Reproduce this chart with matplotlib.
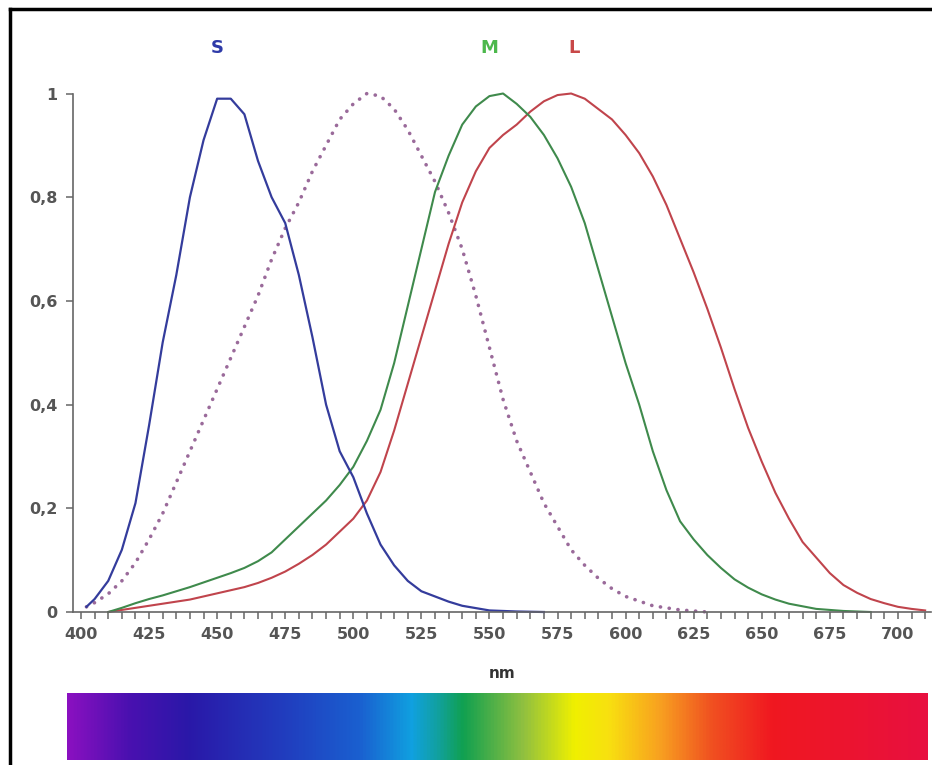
import numpy as np
import matplotlib
matplotlib.use("Agg")
import matplotlib.pyplot as plt
from matplotlib.colors import LinearSegmentedColormap
from matplotlib.lines import Line2D

# ---- data ----
s_nm = [402, 405, 410, 415, 420, 425, 430, 435, 440, 445, 450, 455, 460, 465, 470,
        475, 480, 485, 490, 495, 500, 505, 510, 515, 520, 525, 530, 535, 540, 550, 560, 570]
s_val = [0.01, 0.025, 0.06, 0.12, 0.21, 0.36, 0.52, 0.65, 0.80, 0.91, 0.99, 0.99, 0.96, 0.87, 0.80,
         0.75, 0.65, 0.53, 0.40, 0.31, 0.26, 0.19, 0.13, 0.09, 0.06, 0.04, 0.03, 0.02, 0.012, 0.003, 0.001, 0.0]

rod_nm = [402, 405, 410, 415, 420, 425, 430, 435, 440, 445, 450, 455, 460, 465, 470, 475, 480,
          485, 490, 495, 500, 505, 510, 515, 520, 525, 530, 535, 540, 545, 550, 555, 560, 565,
          570, 575, 580, 585, 590, 595, 600, 610, 620, 630]
rod_val = [0.01, 0.018, 0.035, 0.06, 0.095, 0.14, 0.19, 0.25, 0.31, 0.37, 0.43, 0.49, 0.55, 0.61,
           0.68, 0.74, 0.79, 0.85, 0.90, 0.95, 0.98, 1.0, 0.995, 0.97, 0.93, 0.88, 0.83, 0.77,
           0.70, 0.61, 0.51, 0.41, 0.33, 0.27, 0.21, 0.165, 0.12, 0.09, 0.065, 0.045, 0.03,
           0.012, 0.004, 0.0]

m_nm = [410, 415, 420, 425, 430, 435, 440, 445, 450, 455, 460, 465, 470, 475, 480, 485, 490,
        495, 500, 505, 510, 515, 520, 525, 530, 535, 540, 545, 550, 555, 560, 565, 570, 575,
        580, 585, 590, 595, 600, 605, 610, 615, 620, 625, 630, 635, 640, 645, 650, 655, 660,
        670, 680, 690]
m_val = [0.0, 0.008, 0.017, 0.025, 0.032, 0.04, 0.048, 0.057, 0.066, 0.075, 0.085, 0.098, 0.115,
         0.14, 0.165, 0.19, 0.215, 0.245, 0.28, 0.33, 0.39, 0.48, 0.59, 0.70, 0.81, 0.88, 0.94,
         0.975, 0.995, 1.0, 0.98, 0.955, 0.92, 0.875, 0.82, 0.75, 0.66, 0.57, 0.48, 0.40, 0.31,
         0.235, 0.175, 0.14, 0.11, 0.085, 0.063, 0.047, 0.034, 0.024, 0.016, 0.006, 0.002, 0.0]

l_nm = [410, 415, 420, 425, 430, 435, 440, 445, 450, 455, 460, 465, 470, 475, 480, 485, 490,
        495, 500, 505, 510, 515, 520, 525, 530, 535, 540, 545, 550, 555, 560, 565, 570, 575,
        580, 585, 590, 595, 600, 605, 610, 615, 620, 625, 630, 635, 640, 645, 650, 655, 660,
        665, 670, 675, 680, 685, 690, 695, 700, 705, 710]
l_val = [0.0, 0.004, 0.008, 0.012, 0.016, 0.02, 0.024, 0.03, 0.036, 0.042, 0.048, 0.056, 0.066,
         0.078, 0.093, 0.11, 0.13, 0.155, 0.18, 0.215, 0.27, 0.35, 0.44, 0.53, 0.62, 0.71, 0.79,
         0.85, 0.895, 0.92, 0.94, 0.965, 0.985, 0.997, 1.0, 0.99, 0.97, 0.95, 0.92, 0.885, 0.84,
         0.785, 0.72, 0.655, 0.585, 0.51, 0.43, 0.355, 0.29, 0.23, 0.18, 0.135, 0.105, 0.075,
         0.052, 0.037, 0.025, 0.017, 0.01, 0.006, 0.003]

x_ticks = [400, 425, 450, 475, 500, 525, 550, 575, 600, 625, 650, 675, 700]
y_ticks = [0, 0.2, 0.4, 0.6, 0.8, 1.0]
y_ticklabels = ["0", "0,2", "0,4", "0,6", "0,8", "1"]

curve_labels = ["S", "M", "L"]
curve_label_nm = [450, 550, 581]

spectrum_colors = ["#8a10c0", "#4a10b0", "#2a18a8", "#2040c0", "#1a60d0", "#10a0e0",
                   "#12a0a0", "#10a050", "#90c040", "#f0f000", "#f8e010", "#f8a020",
                   "#f05020", "#f01820", "#e81040"]
spectrum_pos = [0.0, 0.07, 0.14, 0.26, 0.34, 0.40, 0.43, 0.46, 0.53, 0.59, 0.63, 0.69,
                0.75, 0.82, 1.0]

# ---- figure ----
W, H = 932, 765
fig = plt.figure(figsize=(W / 100, H / 100), dpi=100)
fig.patch.set_facecolor("white")

def fx(px):
    return px / W

def fy(py):
    return 1 - py / H

ax_left, ax_right, ax_top, ax_bottom = 73, 931, 93.5, 612
ax = fig.add_axes([fx(ax_left), fy(ax_bottom), fx(ax_right - ax_left), fy(ax_top) - fy(ax_bottom)])
px_per_nm = 2.723
x0 = 400 + (ax_left - 81) / px_per_nm
x1 = 400 + (ax_right - 81) / px_per_nm
ax.set_xlim(x0, x1)
ax.set_ylim(0, 1.0)

ax.plot(rod_nm, rod_val, color="#9a6a9a", lw=2.6, linestyle=(0, (0.05, 2.4)),
        dash_capstyle="round", clip_on=False)
ax.plot(l_nm, l_val, color="#c0444c", lw=1.5, clip_on=False)
ax.plot(m_nm, m_val, color="#3f8a4c", lw=1.5, clip_on=False)
ax.plot(s_nm, s_val, color="#343c9c", lw=1.6, clip_on=False)

label_colors = ["#2e3aa8", "#4cb84c", "#c84848"]
for lab, nm, c in zip(curve_labels, curve_label_nm, label_colors):
    ax.text(nm, 1.0 + (93.5 - 48) / (612 - 93.5), lab, color=c, fontsize=13,
            fontweight="bold", ha="center", va="center", transform=ax.transData,
            clip_on=False)

for sp in ["top", "right"]:
    ax.spines[sp].set_visible(False)
for sp in ["left", "bottom"]:
    ax.spines[sp].set_color("#666666")
    ax.spines[sp].set_linewidth(1.2)

ax.set_xticks(x_ticks)
ax.set_xticklabels([str(t) for t in x_ticks])
ax.set_xticks(np.arange(400, 715, 5), minor=True)
ax.set_yticks(y_ticks)
ax.set_yticklabels(y_ticklabels)
ax.tick_params(axis="x", which="both", direction="out", length=5, width=1.1,
               color="#666666", labelsize=11.5, labelcolor="#555555", pad=6)
ax.tick_params(axis="y", which="both", direction="out", length=5, width=1.1,
               color="#666666", labelsize=11.5, labelcolor="#555555", pad=6)
for lbl in ax.get_xticklabels() + ax.get_yticklabels():
    lbl.set_fontweight("bold")

fig.text(fx(502), fy(673), "nm", ha="center", va="center", fontsize=11,
         fontweight="bold", color="#333333")

# spectrum bar
cax = fig.add_axes([fx(67), fy(760), fx(928 - 67), fy(693) - fy(760)])
cmap = LinearSegmentedColormap.from_list("spec", list(zip(spectrum_pos, spectrum_colors)))
grad = np.linspace(0, 1, 512)[None, :]
cax.imshow(grad, aspect="auto", cmap=cmap, extent=[0, 1, 0, 1])
cax.set_axis_off()

# frame lines (top and left)
fig.add_artist(Line2D([fx(10), 1.0], [fy(9), fy(9)], color="black", lw=2.5))
fig.add_artist(Line2D([fx(10), fx(10)], [fy(9), 0.0], color="black", lw=2.5))

fig.savefig("out.png", dpi=100, facecolor="white")
